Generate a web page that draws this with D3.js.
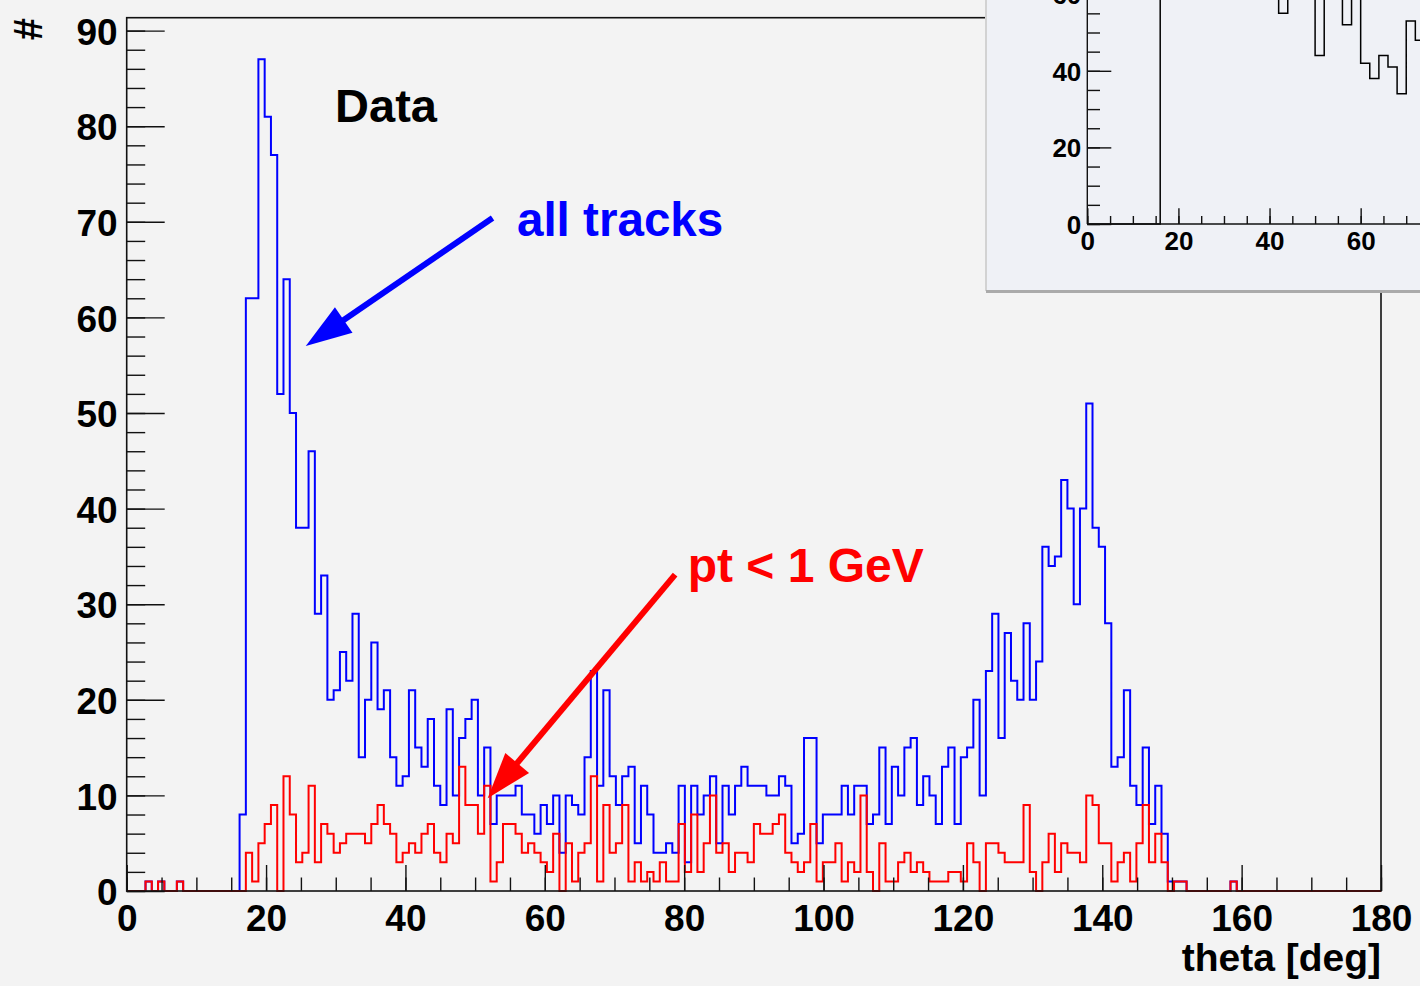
<!DOCTYPE html>
<html><head><meta charset="utf-8">
<script src="https://cdn.jsdelivr.net/npm/d3@7"></script>
<style>
html,body{margin:0;padding:0;background:#f3f3f3;}
svg{display:block;}
text{font-family:"Liberation Sans",Arial,Helvetica,sans-serif;font-weight:bold;}
</style></head><body>
<svg id="c" width="1420" height="986"></svg>
<script>
// ---------------- data ----------------
const thetaRange = [0, 180];
const nBins = 200;               // 0.9 deg bins
const countMax = 91.35;          // histogram maximum (1.05 * peak)

const allTracks = [
  0,0,0,1,0,1,0,0,1,0,
  0,0,0,0,0,0,0,0,8,62,
  62,87,81,77,52,64,50,38,38,46,
  29,33,20,21,25,22,29,14,20,26,
  19,21,14,11,12,21,15,13,18,11,
  9,19,10,16,18,20,10,15,7,10,
  10,10,11,8,8,6,9,7,10,4,
  10,9,8,14,23,11,21,12,9,12,
  13,5,11,8,4,4,5,4,11,3,
  11,8,10,12,5,11,8,11,13,11,
  11,11,10,10,12,11,5,6,16,16,
  5,8,8,8,11,8,11,11,7,8,
  15,7,13,10,15,16,9,12,10,7,
  13,15,7,14,15,20,10,23,29,16,
  27,22,20,28,20,24,36,34,35,43,
  40,30,40,51,38,36,28,13,14,21,
  11,9,15,7,11,6,1,1,1,0,
  0,0,0,0,0,0,1,0,0,0,
  0,0,0,0,0,0,0,0,0,0,
  0,0,0,0,0,0,0,0,0,0
];
const lowPt = [
  0,0,0,1,0,1,0,0,1,0,
  0,0,0,0,0,0,0,0,0,4,
  1,5,7,9,0,12,8,3,4,11,
  3,7,6,4,5,6,6,6,5,7,
  9,7,6,3,4,5,4,6,7,4,
  3,6,5,13,9,9,6,11,1,3,
  7,7,6,4,5,4,3,2,6,0,
  5,1,4,5,12,1,9,4,5,9,
  1,3,1,2,1,3,1,1,7,2,
  8,2,5,10,4,5,2,4,4,3,
  7,6,6,7,8,4,3,2,3,7,
  1,3,3,5,1,3,2,10,2,0,
  5,1,1,3,4,2,3,2,1,1,
  1,2,2,1,5,3,0,5,5,4,
  3,3,3,9,2,0,3,6,2,5,
  4,4,3,10,9,5,5,1,3,4,
  1,5,9,3,6,3,0,1,1,0,
  0,0,0,0,0,0,1,0,0,0,
  0,0,0,0,0,0,0,0,0,0,
  0,0,0,0,0,0,0,0,0,0
];
const countTicks = [0,10,20,30,40,50,60,70,80,90];
const thetaTicks = [0,20,40,60,80,100,120,140,160,180];
const yTitle = "#";
const xTitle = "theta [deg]";
const dataLabel = "Data";
const allLabel = "all tracks";
const lowLabel = "pt < 1 GeV";

// inset histogram: 2 deg bins (only 0..74 deg visible; values above the window top are estimates)
const insetBinWidth = 2;
const insetCounts = [
  0,0,0,0,0,0,0,0,120,245,
  270,215,190,150,125,110,95,85,78,72,
  66,55,63,68,62,44,60,64,52,61,
  42,38,44,41,34,53,48
];
const insetCountTicks = [0,20,40,60];
const insetThetaTicks = [0,20,40,60];

// ---------------- drawing ----------------
const svg = d3.select("#c");
svg.append("rect").attr("width",1420).attr("height",986).attr("fill","#f3f3f3");

const x = d3.scaleLinear().domain(thetaRange).range([126.7, 1381]);
const y = d3.scaleLinear().domain([0, countMax]).range([891, 17.7]);
const bw = (thetaRange[1]-thetaRange[0]) / nBins;

function stepPoints(vals, w){
  const pts = vals.map((v,i)=>[i*w, v]);
  pts.push([vals.length*w, vals[vals.length-1]]);
  return pts;
}
const line = d3.line().x(d=>x(d[0])).y(d=>y(d[1])).curve(d3.curveStepAfter);

// histograms
svg.append("path").attr("d", line(stepPoints(allTracks,bw)))
  .attr("fill","none").attr("stroke","#0000ff").attr("stroke-width",2);
svg.append("path").attr("d", line(stepPoints(lowPt,bw)))
  .attr("fill","none").attr("stroke","#ff0000").attr("stroke-width",2);

// axes
function styleAxis(g){
  g.select(".domain").remove();
  g.selectAll(".tick line").attr("stroke","#111").attr("stroke-width",1.4);
}
const gy = svg.append("g").attr("transform",`translate(${x(0)},0)`);
gy.append("g").call(d3.axisLeft(y).tickValues(d3.range(0,91,2)).tickSizeInner(-18.5).tickSizeOuter(0).tickFormat(""))
  .call(styleAxis);
gy.append("g").call(d3.axisLeft(y).tickValues(countTicks).tickSizeInner(-38).tickSizeOuter(0).tickPadding(9))
  .call(styleAxis)
  .call(g=>g.selectAll("text").attr("font-size",37).attr("fill","#000").attr("dy","0.37em")
    .style("font-family",'"Liberation Sans",Arial,sans-serif').style("font-weight","bold"));

const gx = svg.append("g").attr("transform",`translate(0,${y(0)})`);
gx.append("g").call(d3.axisBottom(x).tickValues(d3.range(0,181,5)).tickSizeInner(-13.5).tickSizeOuter(0).tickFormat(""))
  .call(styleAxis);
gx.append("g").call(d3.axisBottom(x).tickValues(thetaTicks).tickSizeInner(-26).tickSizeOuter(0).tickPadding(14))
  .call(styleAxis)
  .call(g=>g.selectAll("text").attr("font-size",37).attr("fill","#000")
    .style("font-family",'"Liberation Sans",Arial,sans-serif').style("font-weight","bold"));

// frame
svg.append("rect").attr("x",x(0)).attr("y",y(countMax)).attr("width",x(180)-x(0)).attr("height",y(0)-y(countMax))
  .attr("fill","none").attr("stroke","#111").attr("stroke-width",1.6);

// axis titles
svg.append("text").attr("transform","translate(42,18) rotate(-90)").attr("text-anchor","end")
  .attr("font-size",40).attr("fill","#000").text(yTitle);
svg.append("text").attr("x",x(180)).attr("y",971).attr("text-anchor","end")
  .attr("font-size",39).attr("fill","#000").text(xTitle);

// annotations (positions in data coordinates)
svg.append("text").attr("x",x(29.9)).attr("y",y(80.4)).attr("font-size",47).attr("fill","#000").text(dataLabel);
svg.append("text").attr("x",x(56.0)).attr("y",y(68.5)).attr("font-size",47.6).attr("fill","#0000ff").text(allLabel);
svg.append("text").attr("x",x(80.5)).attr("y",y(32.3)).attr("font-size",48).attr("fill","#ff0000").text(lowLabel);

function arrow(tail, tip, color){
  const x0=x(tail[0]), y0=y(tail[1]), x1=x(tip[0]), y1=y(tip[1]);
  const dx=x1-x0, dy=y1-y0, L=Math.hypot(dx,dy), ux=dx/L, uy=dy/L;
  const hl=46, hw=15.5;
  const bx=x1-ux*hl, by=y1-uy*hl;
  svg.append("line").attr("x1",x0).attr("y1",y0).attr("x2",bx+ux*4).attr("y2",by+uy*4)
    .attr("stroke",color).attr("stroke-width",6);
  svg.append("polygon").attr("points",
    [[x1,y1],[bx-uy*hw,by+ux*hw],[bx+uy*hw,by-ux*hw]].map(p=>p.join(",")).join(" "))
    .attr("fill",color);
}
arrow([52.5,70.4],[25.7,57.0],"#0000ff");
arrow([78.7,33.1],[51.8,9.7],"#ff0000");

// ---------------- inset ----------------
const inset = svg.append("g");
inset.append("rect").attr("x",986).attr("y",-10).attr("width",440).attr("height",301)
  .attr("fill","#eff1f6");
inset.append("line").attr("x1",986).attr("x2",986).attr("y1",0).attr("y2",291)
  .attr("stroke","#d2d2d2").attr("stroke-width",2);
inset.append("line").attr("x1",986).attr("x2",1420).attr("y1",291.5).attr("y2",291.5)
  .attr("stroke","#aaaaaa").attr("stroke-width",3);

const ix = d3.scaleLinear().domain([0,180]).range([1087.3, 1087.3+180*4.556]);
const iy = d3.scaleLinear().domain([0,60]).range([224, 224-60*3.83]);
svg.append("clipPath").attr("id","ic").append("rect").attr("x",987).attr("y",-20).attr("width",440).attr("height",310);
const ig = inset.append("g").attr("clip-path","url(#ic)");

const iline = d3.line().x(d=>ix(d[0])).y(d=>iy(d[1])).curve(d3.curveStepAfter);
ig.append("path").attr("d", iline(stepPoints(insetCounts, insetBinWidth)))
  .attr("fill","none").attr("stroke","#000").attr("stroke-width",1.5);

const igy = ig.append("g").attr("transform",`translate(${ix(0)},0)`);
igy.append("g").call(d3.axisLeft(iy).tickValues(d3.range(0,61,5)).tickSizeInner(-12.7).tickSizeOuter(0).tickFormat(""))
  .call(styleAxis);
igy.append("g").call(d3.axisLeft(iy).tickValues(insetCountTicks).tickSizeInner(-24).tickSizeOuter(0).tickPadding(6))
  .call(styleAxis)
  .call(g=>g.selectAll("text").attr("font-size",26).attr("fill","#000").attr("dy","0.36em")
    .style("font-family",'"Liberation Sans",Arial,sans-serif').style("font-weight","bold"));
igy.append("line").attr("x1",0).attr("x2",0).attr("y1",iy(0)).attr("y2",-20).attr("stroke","#111").attr("stroke-width",1.4);

const igx = ig.append("g").attr("transform",`translate(0,${iy(0)})`);
igx.append("g").call(d3.axisBottom(ix).tickValues(d3.range(0,81,5)).tickSizeInner(-8).tickSizeOuter(0).tickFormat(""))
  .call(styleAxis);
igx.append("g").call(d3.axisBottom(ix).tickValues(insetThetaTicks).tickSizeInner(-15.7).tickSizeOuter(0).tickPadding(8))
  .call(styleAxis)
  .call(g=>g.selectAll("text").attr("font-size",26).attr("fill","#000")
    .style("font-family",'"Liberation Sans",Arial,sans-serif').style("font-weight","bold"));
igx.append("line").attr("x1",ix(0)).attr("x2",1430).attr("y1",0).attr("y2",0).attr("stroke","#111").attr("stroke-width",1.4);
</script>
</body></html>
